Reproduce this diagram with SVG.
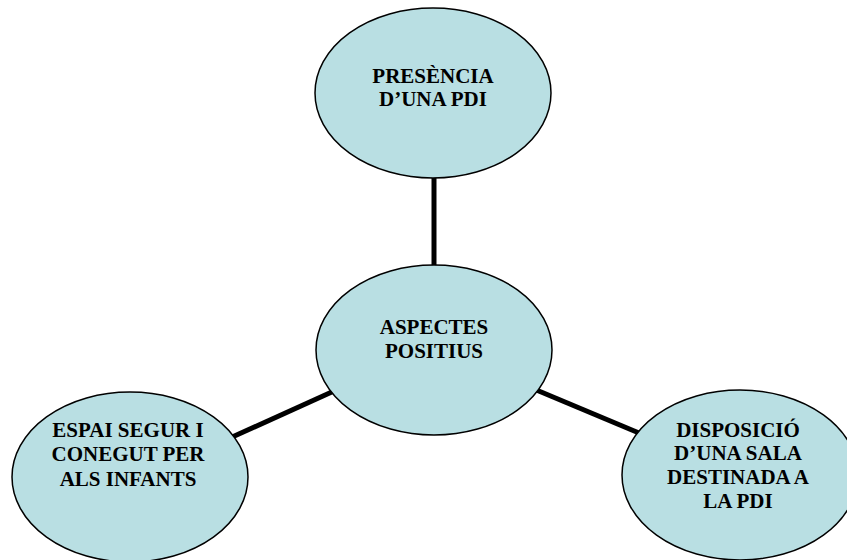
<svg xmlns="http://www.w3.org/2000/svg" width="847" height="560" viewBox="0 0 847 560">
<style>
.node{fill:#B9DFE3;stroke:#000;stroke-width:1.5}
.conn{stroke:#000;stroke-width:5;fill:none}
.t{font-family:"Liberation Serif","Times New Roman",serif;font-weight:bold;font-size:21px;fill:#000;text-anchor:middle}
</style>
<rect width="847" height="560" fill="#fff"/>
<g id="connectors">
<line class="conn" x1="434" y1="176" x2="434" y2="267"/>
<line class="conn" x1="230" y1="438" x2="334" y2="391"/>
<line class="conn" x1="534" y1="389" x2="639" y2="433"/>
</g>
<g id="node-top">
<ellipse class="node" cx="433" cy="93" rx="118" ry="85"/>
<text class="t" x="433" y="83">PRESÈNCIA</text>
<text class="t" x="433" y="106">D’UNA PDI</text>
</g>
<g id="node-center">
<ellipse class="node" cx="434" cy="350" rx="118" ry="85"/>
<text class="t" x="434" y="334">ASPECTES</text>
<text class="t" x="434" y="358">POSITIUS</text>
</g>
<g id="node-left">
<ellipse class="node" cx="130" cy="477" rx="118" ry="85"/>
<text class="t" x="128" y="437">ESPAI SEGUR I</text>
<text class="t" x="128" y="461">CONEGUT PER</text>
<text class="t" x="128" y="486">ALS INFANTS</text>
</g>
<g id="node-right">
<ellipse class="node" cx="740" cy="475" rx="118" ry="85"/>
<text class="t" x="738" y="437">DISPOSICIÓ</text>
<text class="t" x="738" y="460">D’UNA SALA</text>
<text class="t" x="738" y="484">DESTINADA A</text>
<text class="t" x="738" y="508">LA PDI</text>
</g>
</svg>
